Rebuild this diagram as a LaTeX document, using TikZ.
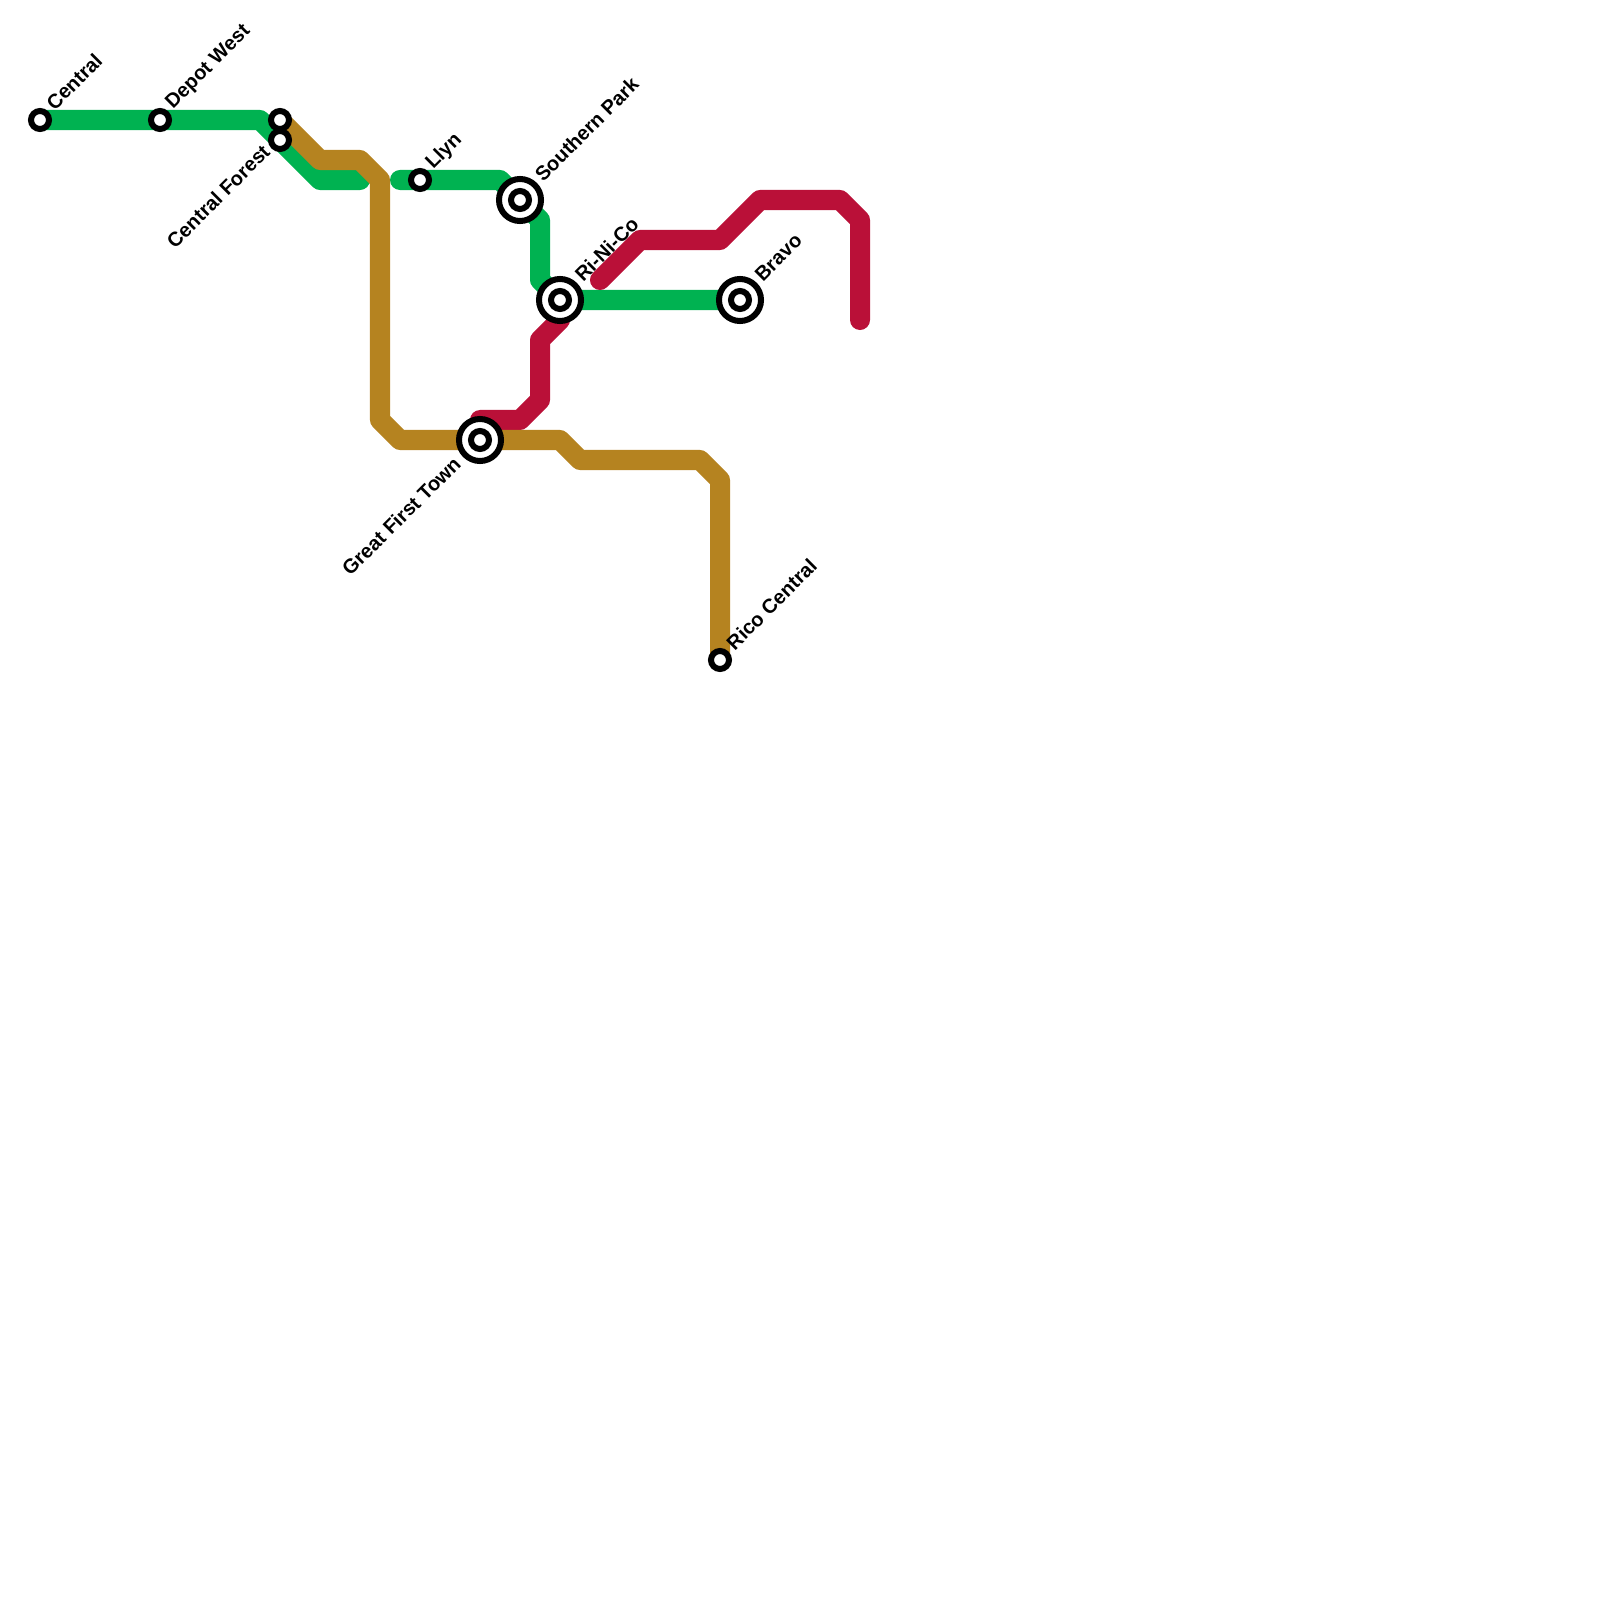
\documentclass[tikz,border=0pt]{standalone}
\usepackage{fontspec}
\setmainfont{Liberation Sans}
\usetikzlibrary{backgrounds}
\definecolor{greenline}{HTML}{00B251}
\definecolor{brownline}{HTML}{B58320}
\definecolor{redline}{HTML}{BA1038}

\begin{document}
\begin{tikzpicture}[
      x=0.01cm, y=-0.01cm,
      route/.style={line width=0.2cm, line cap=round, line join=round},
      stn/.style={circle, draw=black, fill=white, line width=0.06cm, minimum size=0.18cm, inner sep=0pt, outer sep=0pt},
      hub/.style={stn, minimum size=0.42cm},
      lab/.style={font=\bfseries\fontsize{5.7}{6.8}\selectfont, rotate=45, inner sep=0pt},
      labr/.style={lab, anchor=west, xshift=0.07cm, yshift=0.03cm},
      labl/.style={lab, anchor=east, xshift=-0.09cm, yshift=0.02cm}]
    \useasboundingbox (0,0) rectangle (1600,1600);
    % Stations
    \node[stn] (central)  at (40,120)  {};
    \node[stn] (depot)    at (160,120) {};
    \node[stn] (northend) at (280,120) {};
    \node[stn] (forest)   at (280,140) {};
    \node[stn] (llyn)     at (420,180) {};
    \node[hub] (southern) at (520,200) {};
    \node[stn] (southernin) at (520,200) {};
    \node[hub] (rinico)   at (560,300) {};
    \node[stn] (rinicoin) at (560,300) {};
    \node[hub] (bravo)    at (740,300) {};
    \node[stn] (bravoin)  at (740,300) {};
    \node[hub] (great)    at (480,440) {};
    \node[stn] (greatin)  at (480,440) {};
    \node[stn] (rico)     at (720,660) {};
    % Bends: green
    \coordinate (ga) at (260,120);
    \coordinate (gb) at (320,180);
    \coordinate (gc) at (360,180);
    \coordinate (gd) at (400,180);
    \coordinate (ge) at (500,180);
    \coordinate (gf) at (540,220);
    \coordinate (gg) at (540,280);
    % Bends: red
    \coordinate (ra) at (480,420);
    \coordinate (rb) at (520,420);
    \coordinate (rc) at (540,400);
    \coordinate (rd) at (540,340);
    \coordinate (re) at (560,320);
    \coordinate (rf) at (600,280);
    \coordinate (rg) at (640,240);
    \coordinate (rh) at (720,240);
    \coordinate (ri) at (760,200);
    \coordinate (rj) at (840,200);
    \coordinate (rk) at (860,220);
    \coordinate (rl) at (860,320);
    % Bends: brown
    \coordinate (ba) at (320,160);
    \coordinate (bb) at (360,160);
    \coordinate (bc) at (380,180);
    \coordinate (bd) at (380,420);
    \coordinate (be) at (400,440);
    \coordinate (bf) at (560,440);
    \coordinate (bg) at (580,460);
    \coordinate (bh) at (700,460);
    \coordinate (bi) at (720,480);
    % Lines
    \begin{scope}[on background layer]
      \draw[route, greenline] (central.center) -- (depot.center) -- (ga) -- (gb) -- (gc);
      \draw[route, greenline] (gd) -- (llyn.center) -- (ge) -- (southern.center) -- (gf) -- (gg) -- (rinico.center) -- (bravo.center);
      \draw[route, redline] (ra) -- (rb) -- (rc) -- (rd) -- (re);
      \draw[route, redline] (rf) -- (rg) -- (rh) -- (ri) -- (rj) -- (rk) -- (rl);
      \draw[route, brownline] (northend.center) -- (ba) -- (bb) -- (bc) -- (bd) -- (be) -- (great.center) -- (bf) -- (bg) -- (bh) -- (bi) -- (rico.center);
    \end{scope}
    % Labels
    \node[labr] (centrallab) at (central.45) {Central};
    \node[labr] (depotlab) at (depot.45) {Depot West};
    \node[labl, xshift=0.03cm, yshift=0.02cm] (forestlab) at (forest.225) {Central Forest};
    \node[labr] (llynlab) at (llyn.45) {Llyn};
    \node[labr] (southernlab) at (southern.45) {Southern Park};
    \node[labr] (rinicolab) at (rinico.45) {Ri-Ni-Co};
    \node[labr] (bravolab) at (bravo.45) {Bravo};
    \node[labl] (greatlab) at (great.225) {Great First Town};
    \node[labr] (ricolab) at (rico.45) {Rico Central};
  \end{tikzpicture}
\end{document}
